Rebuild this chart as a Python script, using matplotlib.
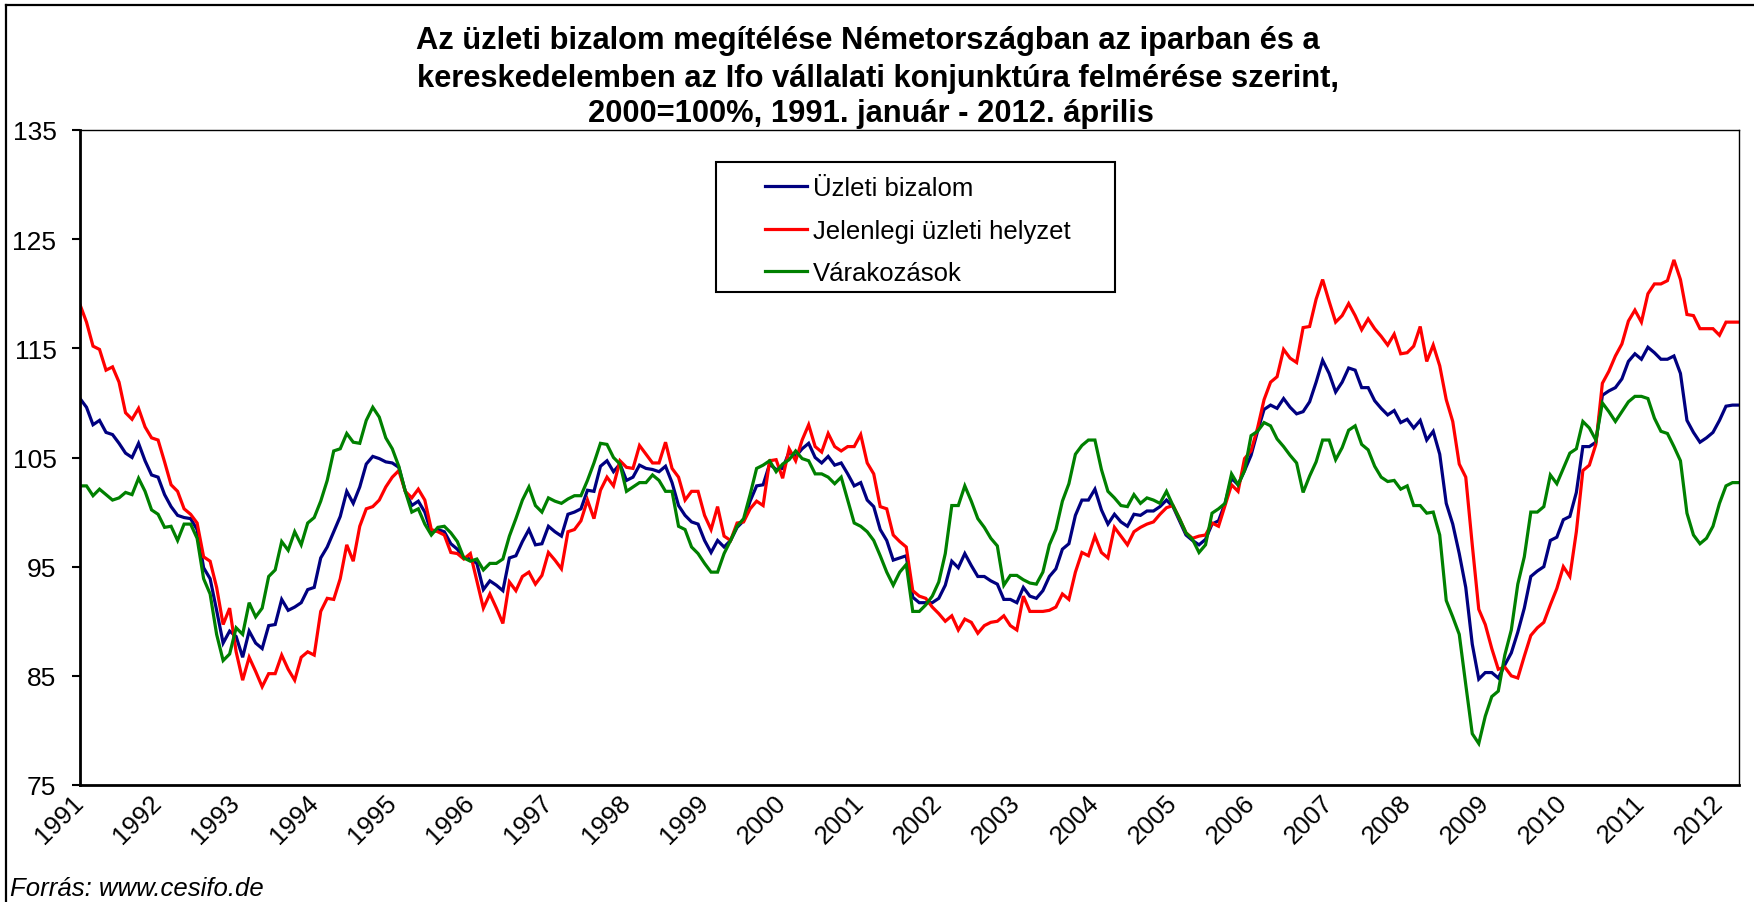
import matplotlib
matplotlib.use("Agg")
import matplotlib.pyplot as plt
from matplotlib.patches import Rectangle
from matplotlib.lines import Line2D
import numpy as np

plt.rcParams['font.family'] = ['Liberation Sans', 'DejaVu Sans']

# havi adatok, 1991. január - 2012. április (2000=100)
years = [str(y) for y in range(1991, 2013)]

bizalom = [
    110.4, 109.6, 108.0, 108.4, 107.3, 107.1, 106.3, 105.4, 105.0, 106.3, 104.7, 103.4,
    103.2, 101.6, 100.5, 99.7, 99.5, 99.4, 98.4, 94.9, 93.9, 91.0, 88.0, 89.1,
    88.6, 86.7, 89.1, 88.0, 87.5, 89.6, 89.7, 92.0, 91.0, 91.3, 91.7, 92.9,
    93.1, 95.8, 96.8, 98.2, 99.6, 101.9, 100.8, 102.3, 104.4, 105.1, 104.9, 104.6,
    104.5, 104.1, 101.9, 100.6, 101.0, 100.0, 98.1, 98.4, 98.2, 97.1, 96.6, 95.8,
    95.7, 95.3, 92.9, 93.7, 93.3, 92.8, 95.8, 96.0, 97.3, 98.4, 97.0, 97.1,
    98.7, 98.2, 97.8, 99.8, 100.0, 100.3, 102.0, 101.9, 104.2, 104.7, 103.7, 104.4,
    102.9, 103.2, 104.3, 104.0, 103.9, 103.7, 104.2, 102.7, 100.6, 99.7, 99.1, 98.9,
    97.4, 96.3, 97.4, 96.8, 97.4, 98.6, 99.2, 101.0, 102.4, 102.5, 104.4, 103.9,
    104.0, 105.5, 105.1, 105.8, 106.3, 105.0, 104.5, 105.1, 104.3, 104.5, 103.5, 102.4,
    102.7, 101.1, 100.5, 98.4, 97.4, 95.6, 95.8, 96.0, 92.2, 91.7, 91.7, 91.7,
    92.1, 93.3, 95.5, 94.9, 96.2, 95.1, 94.1, 94.1, 93.7, 93.4, 92.0, 92.0,
    91.7, 93.1, 92.3, 92.1, 92.8, 94.1, 94.8, 96.6, 97.1, 99.7, 101.1, 101.1,
    102.1, 100.2, 98.9, 99.8, 99.1, 98.7, 99.8, 99.7, 100.1, 100.1, 100.5, 101.1,
    100.5, 99.2, 97.9, 97.4, 97.0, 97.5, 98.9, 99.2, 100.8, 103.1, 102.5, 103.8,
    105.2, 107.4, 109.4, 109.8, 109.5, 110.4, 109.6, 109.0, 109.2, 110.1, 111.9, 113.9,
    112.7, 111.0, 111.9, 113.2, 113.0, 111.4, 111.4, 110.2, 109.5, 108.9, 109.3, 108.2,
    108.5, 107.7, 108.4, 106.6, 107.4, 105.3, 100.8, 98.9, 96.2, 93.1, 87.9, 84.7,
    85.3, 85.3, 84.8, 86.0, 87.1, 89.0, 91.2, 94.1, 94.6, 95.0, 97.4, 97.7,
    99.3, 99.6, 101.8, 106.0, 106.0, 106.4, 110.7, 111.1, 111.4, 112.2, 113.8, 114.5,
    114.0, 115.1, 114.6, 114.0, 114.0, 114.3, 112.7, 108.4, 107.3, 106.4, 106.8, 107.3,
    108.4, 109.7, 109.8, 109.8,
]

helyzet = [
    119.0, 117.4, 115.2, 114.9, 113.0, 113.3, 111.9, 109.1, 108.5, 109.5, 107.8, 106.8,
    106.6, 104.6, 102.5, 101.9, 100.3, 99.8, 99.0, 95.9, 95.5, 93.1, 89.7, 91.2,
    87.2, 84.6, 86.7, 85.4, 84.0, 85.2, 85.2, 86.9, 85.6, 84.6, 86.7, 87.2,
    86.9, 90.9, 92.1, 92.0, 93.9, 97.0, 95.5, 98.7, 100.3, 100.5, 101.1, 102.3,
    103.2, 103.8, 101.9, 101.3, 102.1, 101.1, 98.4, 98.2, 97.9, 96.3, 96.2, 95.7,
    96.2, 93.7, 91.2, 92.5, 91.2, 89.8, 93.6, 92.8, 94.1, 94.5, 93.4, 94.2,
    96.3, 95.6, 94.8, 98.2, 98.4, 99.2, 101.1, 99.4, 102.0, 103.2, 102.4, 104.7,
    104.1, 104.0, 106.1, 105.3, 104.5, 104.5, 106.4, 104.0, 103.2, 101.1, 101.9, 101.9,
    99.7, 98.4, 100.5, 97.8, 97.4, 99.0, 99.1, 100.3, 101.0, 100.6, 104.7, 104.8,
    103.1, 105.8, 104.7, 106.6, 108.0, 106.0, 105.5, 107.2, 106.0, 105.6, 106.0, 106.0,
    107.1, 104.5, 103.5, 100.5, 100.3, 97.9, 97.3, 96.8, 92.8, 92.3, 92.1, 91.3,
    90.7, 90.0, 90.5, 89.2, 90.2, 89.9, 88.9, 89.6, 89.9, 90.0, 90.5, 89.6,
    89.2, 92.3, 90.9, 90.9, 90.9, 91.0, 91.3, 92.5, 92.0, 94.5, 96.3, 96.0,
    97.8, 96.3, 95.8, 98.6, 97.8, 97.0, 98.2, 98.6, 98.9, 99.1, 99.8, 100.4,
    100.6, 99.4, 98.1, 97.6, 97.8, 97.9, 99.0, 98.7, 100.6, 102.5, 101.9, 104.9,
    105.6, 107.7, 110.3, 111.9, 112.4, 114.9, 114.1, 113.7, 116.9, 117.0, 119.5, 121.3,
    119.3, 117.4, 118.0, 119.1, 118.0, 116.7, 117.7, 116.8, 116.1, 115.3, 116.3, 114.5,
    114.6, 115.2, 117.0, 113.8, 115.3, 113.4, 110.3, 108.3, 104.4, 103.2, 97.0, 91.1,
    89.7, 87.5, 85.6, 85.8, 85.0, 84.8, 86.8, 88.7, 89.4, 89.9, 91.5, 93.0,
    95.0, 94.1, 98.2, 103.8, 104.3, 106.2, 111.8, 112.9, 114.3, 115.4, 117.5, 118.5,
    117.4, 120.0, 120.9, 120.9, 121.2, 123.1, 121.3, 118.1, 118.0, 116.8, 116.8, 116.8,
    116.2, 117.4, 117.4, 117.4,
]

varakozasok = [
    102.4, 102.4, 101.5, 102.1, 101.6, 101.1, 101.3, 101.8, 101.6, 103.1, 101.9, 100.2,
    99.8, 98.6, 98.7, 97.4, 98.9, 98.9, 97.6, 93.9, 92.5, 88.8, 86.4, 87.0,
    89.4, 88.8, 91.7, 90.4, 91.2, 94.1, 94.7, 97.3, 96.5, 98.2, 97.0, 99.0,
    99.5, 101.0, 102.9, 105.6, 105.8, 107.2, 106.4, 106.3, 108.4, 109.6, 108.7, 106.8,
    105.8, 104.2, 101.9, 100.0, 100.3, 98.9, 97.9, 98.6, 98.7, 98.1, 97.3, 95.8,
    95.5, 95.7, 94.7, 95.3, 95.3, 95.7, 97.8, 99.4, 101.1, 102.3, 100.6, 100.0,
    101.3, 101.0, 100.8, 101.2, 101.5, 101.5, 102.9, 104.5, 106.3, 106.2, 105.0, 104.4,
    101.9, 102.3, 102.7, 102.7, 103.4, 102.9, 101.9, 101.9, 98.7, 98.4, 96.8, 96.2,
    95.3, 94.5, 94.5, 96.2, 97.4, 98.7, 99.4, 101.6, 104.0, 104.3, 104.7, 103.7,
    104.4, 104.8, 105.6, 104.9, 104.7, 103.5, 103.5, 103.2, 102.6, 103.2, 101.1, 99.0,
    98.7, 98.2, 97.4, 96.0, 94.5, 93.3, 94.5, 95.2, 90.9, 90.9, 91.5, 92.3,
    93.6, 96.2, 100.6, 100.6, 102.4, 101.0, 99.4, 98.6, 97.6, 96.9, 93.3, 94.2,
    94.2, 93.8, 93.5, 93.4, 94.5, 97.0, 98.4, 101.0, 102.6, 105.3, 106.1, 106.6,
    106.6, 103.9, 101.9, 101.3, 100.6, 100.5, 101.6, 100.8, 101.3, 101.1, 100.8, 101.9,
    100.6, 99.4, 98.1, 97.5, 96.3, 97.0, 99.9, 100.3, 100.8, 103.5, 102.5, 103.8,
    107.0, 107.4, 108.2, 107.9, 106.7, 106.0, 105.2, 104.5, 101.8, 103.3, 104.6, 106.6,
    106.6, 104.8, 105.9, 107.5, 107.9, 106.2, 105.7, 104.2, 103.2, 102.8, 102.9, 102.1,
    102.4, 100.6, 100.6, 99.9, 100.0, 97.9, 91.9, 90.4, 88.8, 84.2, 79.7, 78.8,
    81.3, 83.1, 83.6, 86.9, 89.2, 93.4, 95.9, 100.0, 100.0, 100.5, 103.4, 102.6,
    104.0, 105.4, 105.8, 108.3, 107.7, 106.6, 110.0, 109.2, 108.3, 109.2, 110.1, 110.6,
    110.6, 110.4, 108.6, 107.4, 107.2, 106.0, 104.7, 99.9, 97.9, 97.1, 97.6, 98.7,
    100.8, 102.4, 102.7, 102.7,
]

labels = ["Üzleti bizalom", "Jelenlegi üzleti helyzet", "Várakozások"]
colors = ["#000080", "#ff0000", "#008000"]

W, H = 1754, 903
fig = plt.figure(figsize=(W / 100, H / 100), dpi=100)
ax = fig.add_axes([80 / W, 1 - 786 / H, (1739 - 80) / W, (786 - 131) / H])

x = np.arange(len(bizalom))
for series, lab, col in zip([bizalom, helyzet, varakozasok], labels, colors):
    ax.plot(x, series, color=col, lw=2.3, label=lab, solid_joinstyle='miter')

ax.set_xlim(0, len(bizalom) - 1)
ax.set_ylim(75, 135)
ax.set_yticks(np.arange(75, 136, 10))
ax.set_xticks(np.arange(0, len(bizalom), 12))
ax.set_xticklabels(years, rotation=45, ha='right', va='center',
                   rotation_mode='anchor', fontsize=18.5)
ax.tick_params(axis='x', length=0, pad=10)
ax.tick_params(axis='y', length=6, width=1.5, pad=11, labelsize=19)

for s in ['left', 'bottom']:
    ax.spines[s].set_linewidth(2.0)
for s in ['top', 'right']:
    ax.spines[s].set_linewidth(1.0)

# cím
title_lines = [
    ("Az üzleti bizalom megítélése Németországban az iparban és a", 868, 41),
    ("kereskedelemben az Ifo vállalati konjunktúra felmérése szerint,", 878, 79),
    ("2000=100%, 1991. január - 2012. április", 871, 114),
]
for txt, tx, ty in title_lines:
    fig.text(tx / W, 1 - ty / H, txt, ha='center', va='center',
             fontsize=22.2, fontweight='bold')

# jelmagyarázat
fig.patches.append(Rectangle((716 / W, 1 - 293 / H), (1115 - 716) / W, (293 - 163) / H,
                             transform=fig.transFigure, fill=False,
                             edgecolor='black', lw=1.5))
fig.legend(loc='upper left', bbox_to_anchor=(765 / W, 1 - 177 / H),
           frameon=False, fontsize=18.5, handlelength=1.63, handletextpad=0.25,
           labelspacing=0.72, borderpad=0, borderaxespad=0)

# keret
fig.add_artist(Line2D([6 / W, 6 / W], [0, 1 - 6 / H], transform=fig.transFigure,
                      color='black', lw=1.6))
fig.add_artist(Line2D([6 / W, 1], [1 - 6 / H, 1 - 6 / H], transform=fig.transFigure,
                      color='black', lw=1.6))

fig.text(10 / W, 1 - 889 / H, "Forrás: www.cesifo.de", ha='left', va='center',
         fontsize=18.5, style='italic')

fig.savefig("out.png", dpi=100)
